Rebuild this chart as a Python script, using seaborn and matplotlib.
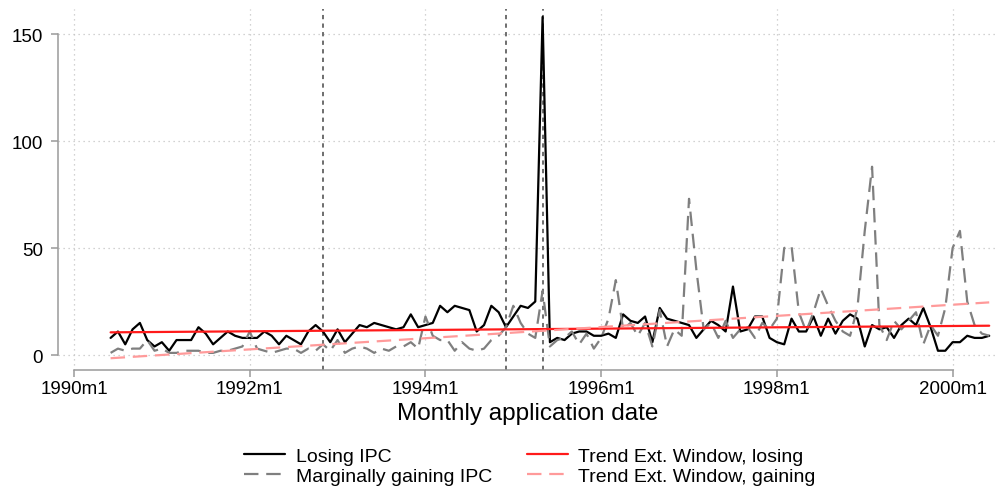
import numpy as np
import pandas as pd
import matplotlib
matplotlib.use("Agg")
import matplotlib.pyplot as plt
import seaborn as sns

# Monthly series, first observation 1990m6, last 2000m6
first_month = "1990m6"
losing_ipc = [
    8, 11, 5, 12, 15, 7, 4, 6, 2, 7, 7, 7, 13, 10, 5, 8, 11, 9, 8,
    8, 8, 11, 9, 5, 9, 7, 5, 11, 14, 11, 6, 12,
    6, 10, 14, 13, 15, 14, 13, 12, 13, 19, 13, 14,
    15, 23, 20, 23, 22, 21, 11, 14, 23, 20, 13, 18,
    23, 22, 25, 158, 6, 8, 7, 10, 11, 11, 9, 9,
    10, 8, 19, 16, 15, 18, 6, 22, 17, 16, 15, 14,
    8, 12, 16, 14, 11, 32, 11, 12, 18, 18, 8, 6,
    5, 17, 11, 11, 18, 9, 17, 10, 16, 19, 17, 4,
    14, 12, 13, 8, 14, 17, 14, 22, 13, 2, 2, 6,
    6, 9, 8, 8, 9,
]
gaining_ipc = [
    1, 3, 2, 3, 3, 7, 2, 3, 1, 1, 2, 2, 2, 1, 1, 2, 2, 3, 4,
    11, 3, 2, 1, 2, 3, 3, 1, 3, 2, 5, 2, 7,
    1, 3, 4, 3, 1, 3, 2, 4, 4, 6, 3, 18,
    9, 7, 7, 2, 6, 3, 2, 3, 7, 9, 13, 23,
    15, 10, 8, 30, 4, 7, 8, 11, 5, 10, 3, 8,
    17, 35, 12, 15, 9, 15, 4, 21, 4, 12, 9, 73,
    40, 12, 15, 8, 16, 8, 12, 13, 8, 15, 12, 17,
    50, 51, 20, 11, 20, 31, 23, 16, 11, 9, 22, 58,
    88, 14, 7, 16, 12, 16, 20, 5, 14, 9, 22, 50,
    58, 25, 14, 10, 9,
]
# Fitted trends over the extended window: values at first and last month
trend_losing = [10.6, 13.7]
trend_gaining = [-1.5, 24.6]
event_months = ["1992m11", "1994m12", "1995m5"]
tick_labels = ["1990m1", "1992m1", "1994m1", "1996m1", "1998m1", "2000m1"]
y_ticks = [0, 50, 100, 150]


def month_index(label):
    year, month = label.split("m")
    return (int(year) - 1990) * 12 + int(month) - 1


start = month_index(first_month)
months = np.arange(start, start + len(losing_ipc))
df = pd.DataFrame({"month": months, "losing": losing_ipc, "gaining": gaining_ipc})
trend_df = pd.DataFrame({
    "month": [months[0], months[-1]],
    "losing": trend_losing,
    "gaining": trend_gaining,
})

sns.set_style("white")
plt.rcParams["font.family"] = ["Liberation Sans", "DejaVu Sans"]
plt.rcParams["text.color"] = "black"
plt.rcParams["axes.labelcolor"] = "black"

fig = plt.figure(figsize=(10, 4.89), dpi=100)
ax = fig.add_axes([0.058, 0.2413, 0.94, 0.7382])

for ev in event_months:
    ax.axvline(month_index(ev), color="#6e6e6e", lw=1.4,
               linestyle=(0, (2.2, 2.2)), zorder=1)

sns.lineplot(data=df, x="month", y="losing", ax=ax, color="black",
             lw=1.6, label="Losing IPC", zorder=3)
sns.lineplot(data=df, x="month", y="gaining", ax=ax, color="#7f7f7f",
             lw=1.6, label="Marginally gaining IPC", zorder=3)
ax.lines[-1].set_dashes((6.5, 3.5))
sns.lineplot(data=trend_df, x="month", y="losing", ax=ax, color="#ff1a1a",
             lw=1.6, label="Trend Ext. Window, losing", zorder=4)
sns.lineplot(data=trend_df, x="month", y="gaining", ax=ax, color="#ff9a9a",
             lw=1.6, label="Trend Ext. Window, gaining", zorder=4)
ax.lines[-1].set_dashes((6.5, 3.5))

handles, labels = ax.get_legend_handles_labels()
if ax.get_legend() is not None:
    ax.get_legend().remove()

ax.set_xlim(-2.185, 126.2)
ax.set_ylim(-7.0, 161.7)
ax.set_xticks([month_index(t) for t in tick_labels])
ax.set_xticklabels(tick_labels)
ax.set_yticks(y_ticks)
ax.set_yticklabels([str(v) for v in y_ticks])

ax.grid(True, color="#c4c4c4", lw=0.9, linestyle=(0, (1, 3)))
ax.set_axisbelow(True)

sns.despine(ax=ax)
ax.spines["left"].set_bounds(y_ticks[0], y_ticks[-1])
ax.spines["bottom"].set_bounds(month_index(tick_labels[0]), month_index(tick_labels[-1]))
for side in ("left", "bottom"):
    ax.spines[side].set_color("#9a9a9a")
    ax.spines[side].set_linewidth(1.1)
ax.tick_params(axis="both", direction="out", length=5, width=1.1,
               color="#9a9a9a", labelsize=13.5, labelcolor="black")
ax.tick_params(axis="x", bottom=True, pad=2)
ax.tick_params(axis="y", left=True, pad=6)

ax.set_ylabel("")
ax.set_xlabel("Monthly application date", fontsize=17.5, labelpad=4)

fig.legend(handles, labels, ncol=2, loc="upper center",
           bbox_to_anchor=(0.53, 0.099), frameon=False,
           fontsize=14, handlelength=2.1, handletextpad=0.55,
           columnspacing=1.8, labelspacing=0.12, borderaxespad=0)

fig.savefig("out.png", dpi=100)
